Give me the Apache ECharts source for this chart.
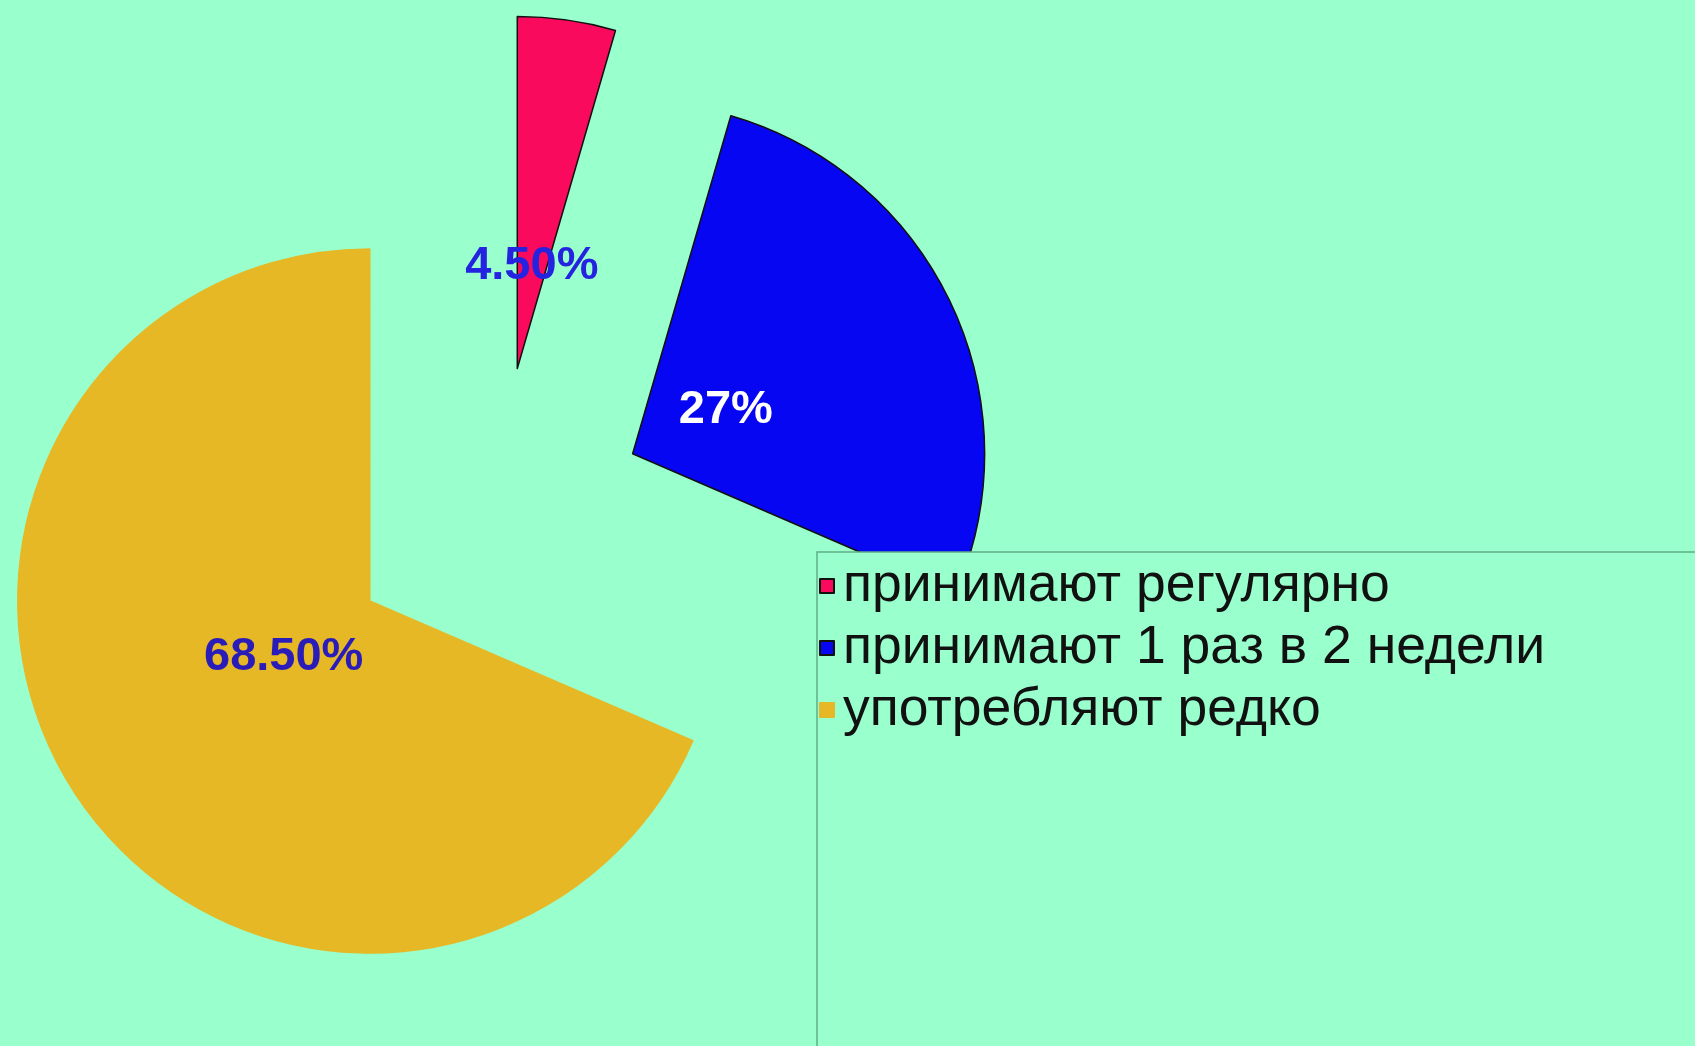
<!DOCTYPE html>
<html>
<head>
<meta charset="utf-8">
<script src="https://cdn.jsdelivr.net/npm/echarts@6/dist/echarts.min.js"></script>
<style>
    html, body {margin: 0; padding: 0; background: #99ffcc;}
    #main {width: 1695px; height: 1046px;}
</style>
</head>
<body>
<div id="main"></div>
<script>
    // данные
    var categories = ['принимают регулярно', 'принимают 1 раз в 2 недели', 'употребляют редко'];
    var values = [4.5, 27, 68.5];
    var labelText = ['4.50%', '27%', '68.50%'];

    var colors = ['#fa0a5c', '#0606f2', '#e6b826'];
    var borders = ['#111', '#111', '#e6b826'];
    var labelColors = ['#2424e0', '#ffffff', '#2a1cb8'];

    var myChart = echarts.init(document.getElementById('main'));

    var pieData = [];
    var labelData = [];
    for (var i = 0; i < categories.length; i++) {
        var st = {color: colors[i], borderColor: borders[i], borderWidth: 1.5};
        pieData.push({
            name: categories[i],
            value: values[i],
            selected: true,
            itemStyle: st,
            select: {itemStyle: st}
        });
        labelData.push({
            name: categories[i],
            value: values[i],
            selected: true,
            label: {color: labelColors[i]},
            select: {label: {color: labelColors[i]}, itemStyle: {color: 'transparent', borderWidth: 0}}
        });
    }

    myChart.setOption({
        backgroundColor: '#99ffcc',
        animation: false,
        legend: {
            orient: 'vertical',
            left: 819,
            top: 555,
            z: 5,
            padding: 0,
            itemGap: 0,
            itemWidth: 14,
            itemHeight: 14,
            icon: 'rect',
            selectedMode: false,
            data: categories,
            textStyle: {
                fontFamily: 'Liberation Sans, Arial, sans-serif',
                fontSize: 53.5,
                lineHeight: 62,
                color: '#111',
                padding: [0, 0, 0, 4]
            }
        },
        graphic: [{
            // рамка легенды, закрывает кусок пирога
            type: 'rect',
            silent: true,
            z: 4,
            shape: {x: 817, y: 552, width: 1000, height: 600},
            style: {fill: '#99ffcc', stroke: '#5fae88', lineWidth: 1.5}
        }],
        series: [
            {
                name: 'pie',
                type: 'pie',
                center: [496, 518],
                radius: [0, 352],
                startAngle: 90,
                selectedMode: 'multiple',
                selectedOffset: 151,
                silent: true,
                emphasis: {disabled: true},
                label: {show: false},
                labelLine: {show: false},
                data: pieData
            },
            {
                // подписи
                name: 'labels',
                type: 'pie',
                center: [496, 518],
                radius: [0, 200],
                startAngle: 90,
                selectedMode: 'multiple',
                selectedOffset: 151,
                silent: true,
                z: 3,
                emphasis: {disabled: true},
                itemStyle: {color: 'transparent', borderWidth: 0},
                labelLine: {show: false},
                label: {
                    show: true,
                    position: 'inside',
                    padding: [10, 0, 0, 0],
                    fontFamily: 'Liberation Sans, Arial, sans-serif',
                    fontWeight: 'bold',
                    fontSize: 47,
                    formatter: function (p) {
                        return labelText[p.dataIndex];
                    }
                },
                data: labelData
            }
        ]
    });
</script>
</body>
</html>
